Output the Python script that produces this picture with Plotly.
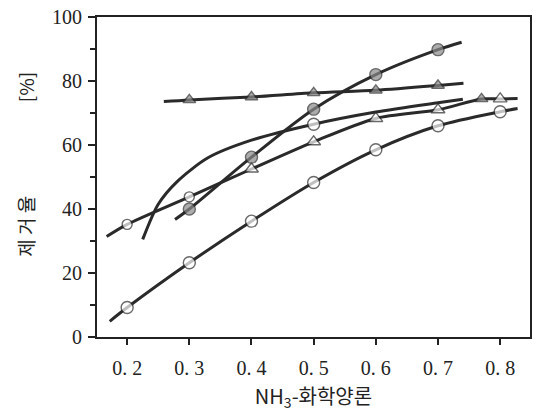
import plotly.graph_objects as go

# ---- data ----
# open circles (lowest curve); first/last entries are line ends without marker
oc_x = [0.172, 0.2, 0.3, 0.4, 0.5, 0.6, 0.7, 0.8, 0.828]
oc_y = [4.9, 9.2, 23.2, 36.2, 48.3, 58.5, 66.0, 70.4, 71.4]

# filled triangles (flat top curve)
ft_x = [0.259, 0.3, 0.4, 0.5, 0.6, 0.7, 0.741]
ft_y = [73.6, 74.1, 75.0, 76.3, 77.1, 78.6, 79.3]

# filled circles (steep curve)
fc_x = [0.277, 0.3, 0.4, 0.5, 0.6, 0.7, 0.738]
fc_y = [36.7, 40.0, 56.2, 71.2, 82.0, 89.8, 92.1]

# open triangles
ot_x = [0.167, 0.2, 0.3, 0.4, 0.5, 0.6, 0.7, 0.77, 0.8, 0.828]
ot_y = [31.4, 35.2, 43.8, 52.5, 61.0, 68.3, 71.0, 74.4, 74.4, 74.5]

# smooth curve with one open marker
cv_x = [0.225, 0.25, 0.28, 0.33, 0.4, 0.5, 0.6, 0.7, 0.74]
cv_y = [30.5, 41.5, 48.5, 56.0, 61.5, 66.5, 70.3, 73.2, 74.3]

x_ticks = [0.2, 0.3, 0.4, 0.5, 0.6, 0.7, 0.8]
x_tick_text = ["0. 2", "0. 3", "0. 4", "0. 5", "0. 6", "0. 7", "0. 8"]
y_ticks = [0, 20, 40, 60, 80, 100]

LINE = "#2a2a2a"
GRAY = "#8a8a8a"
OPEN = "white"

def make_trace(xs, ys, symbols, fills, sizes):
    return go.Scatter(
        x=xs, y=ys, mode="lines+markers",
        line=dict(color=LINE, width=3, shape="spline", smoothing=0.8),
        marker=dict(symbol=symbols, color=fills, size=sizes,
                    line=dict(color=LINE, width=1.4)),
        showlegend=False, hoverinfo="skip", cliponaxis=False)

fig = go.Figure()

n = len(oc_x)
fig.add_trace(make_trace(oc_x, oc_y, ["circle"] * n, [OPEN] * n,
                         [0] + [12] * (n - 2) + [0]))

n = len(ft_x)
fig.add_trace(make_trace(ft_x, ft_y, ["triangle-up"] * n, [GRAY] * n,
                         [0] + [11] * (n - 2) + [0]))

n = len(cv_x)
fig.add_trace(make_trace(cv_x, cv_y, ["circle"] * n, [OPEN] * n,
                         [12 if v == 0.5 else 0 for v in cv_x]))

n = len(ot_x)
ot_sym = ["circle", "circle", "circle"] + ["triangle-up"] * (n - 3)
ot_fill = [OPEN] * n
ot_fill[7] = GRAY
fig.add_trace(make_trace(ot_x, ot_y, ot_sym, ot_fill,
                         [0, 10, 10, 12, 12, 12, 12, 11, 12, 0]))

n = len(fc_x)
fig.add_trace(make_trace(fc_x, fc_y, ["circle"] * n, [GRAY] * n,
                         [0] + [12] * (n - 2) + [0]))

fig.update_layout(
    width=538, height=413,
    margin=dict(l=97, r=6, t=16, b=76),
    paper_bgcolor="white", plot_bgcolor="white",
    font=dict(family="Liberation Serif", size=20, color="#222"),
    annotations=[dict(
        text="제 거 율                      [%]", textangle=-90,
        xref="paper", yref="paper", x=-0.165, y=0.54,
        xanchor="center", yanchor="middle", showarrow=False,
        font=dict(family="Noto Sans CJK KR", size=19, color="#222"))],
)
fig.update_xaxes(
    range=[0.1515, 0.848], tickvals=x_ticks, ticktext=x_tick_text,
    ticks="outside", ticklen=6, tickwidth=2, tickcolor="#222",
    showline=True, linecolor="#222", linewidth=2, mirror=True,
    showgrid=False, zeroline=False, ticklabelstandoff=6,
    title=dict(text="NH<sub>3</sub>-화학양론", standoff=12,
               font=dict(family="Noto Sans CJK KR", size=20, color="#222")),
)
fig.update_yaxes(
    range=[0, 100], tickvals=y_ticks,
    ticks="outside", ticklen=7, tickwidth=2, tickcolor="#222",
    minor=dict(dtick=10, tick0=0, ticks="outside", ticklen=5, tickwidth=1.5, tickcolor="#222"),
    showline=True, linecolor="#222", linewidth=2, mirror=True,
    showgrid=False, zeroline=False, ticklabelstandoff=2,
)

fig.write_html("out.html")
